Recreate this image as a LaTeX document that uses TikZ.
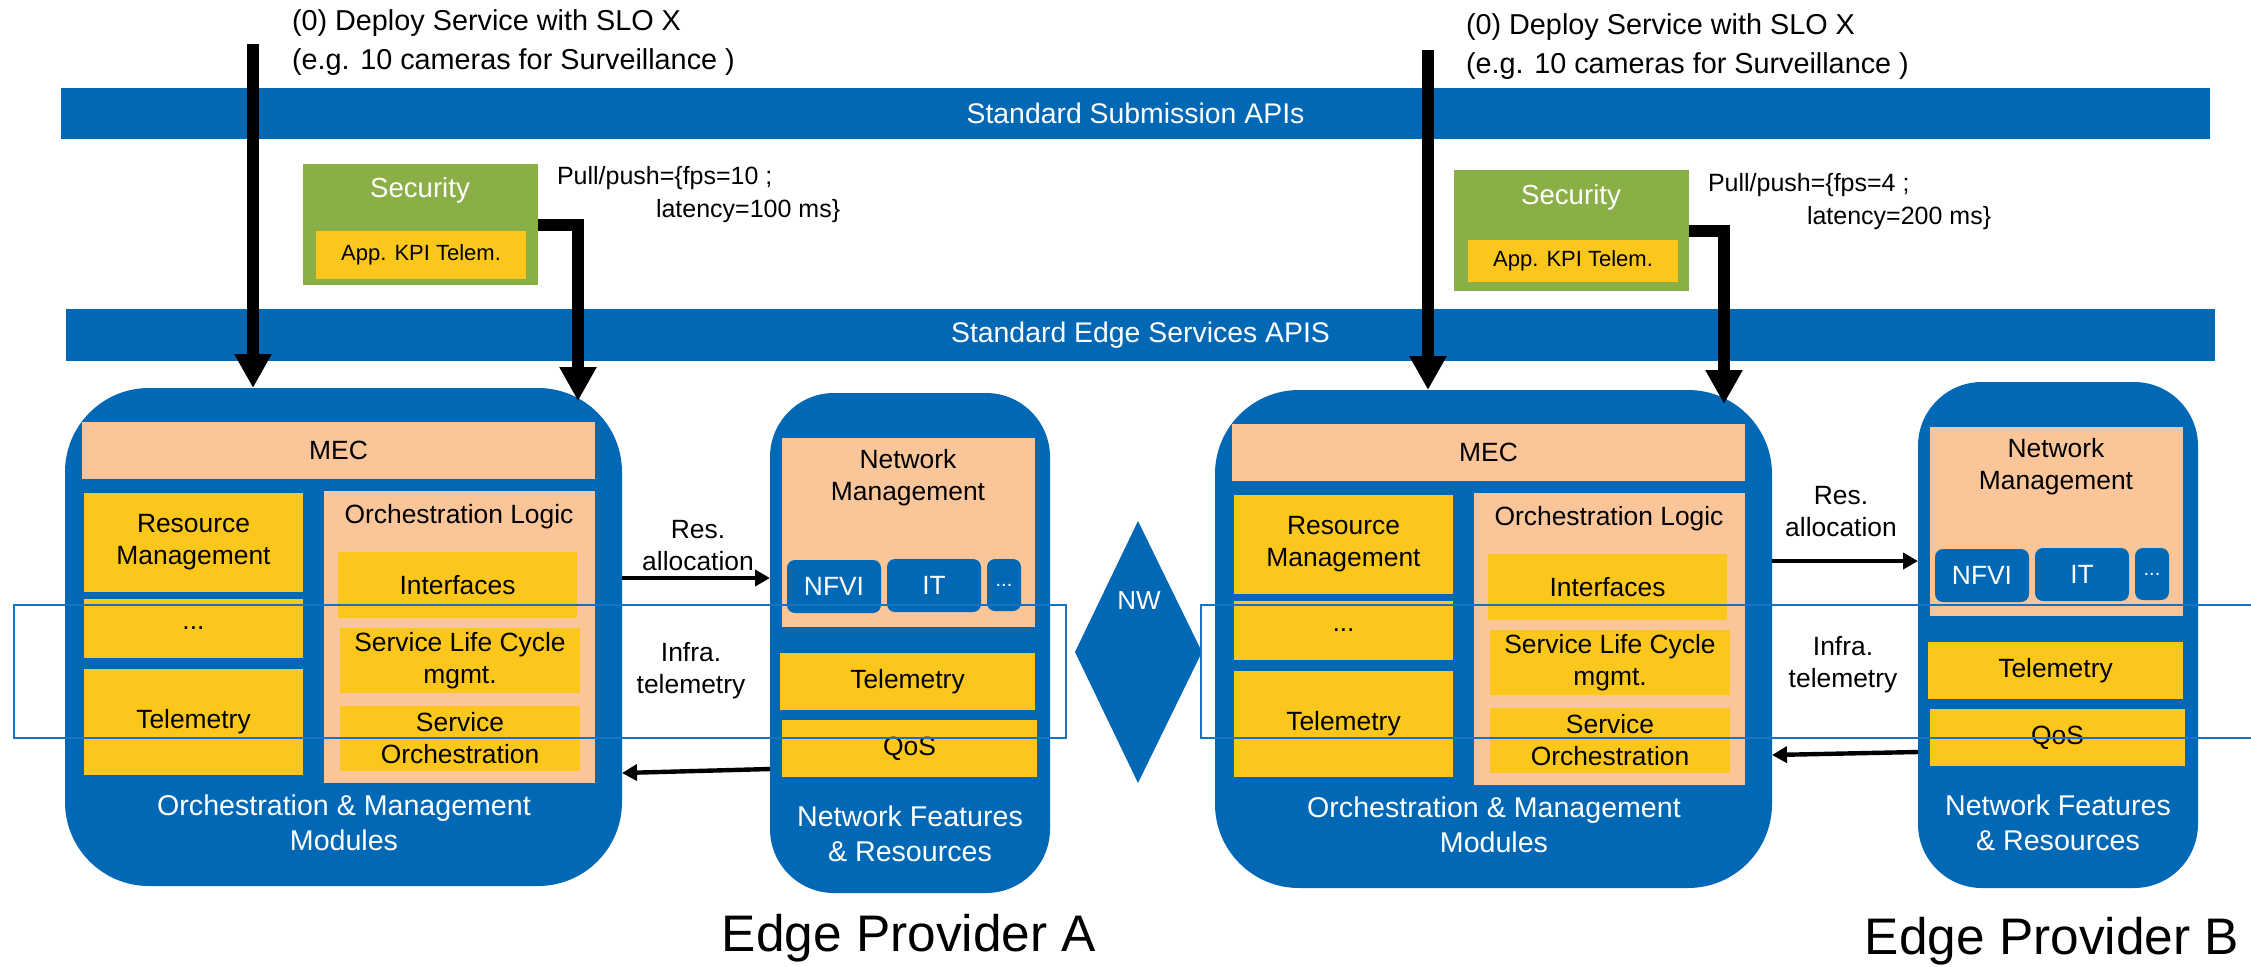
\documentclass[tikz,border=0pt]{standalone}
\usepackage{fontspec}
\setmainfont{Liberation Sans}
\usetikzlibrary{arrows.meta}

\definecolor{ibmblue}{RGB}{0,104,181}
\definecolor{framblue}{RGB}{24,114,196}
\definecolor{peach}{RGB}{250,197,153}
\definecolor{amber}{RGB}{252,199,28}
\definecolor{leaf}{RGB}{139,175,71}

% box given by its corners: name, style, x1, y1, x2, y2, text
\newcommand\blk[7]{%
  \node[#2, minimum width={(#5-#3)*0.5pt}, minimum height={(#6-#4)*0.5pt}]
    (#1) at ({(#3+#5)/2},{(#4+#6)/2}) {#7};}

\tikzset{
  every node/.style={inner sep=0pt, outer sep=0pt, align=center},
  module/.style={fill=ibmblue},
  bar/.style={fill=ibmblue, text=white, font=\fontsize{14.2}{17}\selectfont},
  peachbox/.style={fill=peach, font=\fontsize{13.2}{16}\selectfont},
  amberbox/.style={fill=amber, font=\fontsize{13.2}{16}\selectfont},
  chip/.style={fill=ibmblue, rounded corners=4pt, text=white, font=\fontsize{13.2}{16}\selectfont},
  boxtext/.style={font=\fontsize{13.2}{16}\selectfont},
  modlabel/.style={text=white, font=\fontsize{14.3}{17.5}\selectfont},
  secbox/.style={fill=leaf},
  frame/.style={draw=framblue, line width=1.3pt},
  bigarrow/.style={line width=6pt, -{Triangle[width=17.5pt,length=17pt]}},
  smallarrow/.style={line width=2.2pt, -{Triangle[width=8pt,length=7.5pt]}},
  note/.style={font=\fontsize{12.5}{15}\selectfont},
  deploy/.style={font=\fontsize{14.4}{19.5}\selectfont, align=left},
  provider/.style={font=\fontsize{25.7}{30}\selectfont},
}

% orchestration & management module, shifted by (#2,#3)
\newcommand\orchmod[3]{%
\begin{scope}[shift={(#2,#3)}]
  \blk{orch#1}{module, rounded corners=42pt}{65}{388}{622}{886}{}
  \blk{mec#1}{peachbox}{82}{422}{595}{479}{MEC}
  \blk{rm#1}{amberbox}{84}{493}{303}{592}{Resource\\Management}
  \blk{dots#1}{amberbox}{84}{599}{303}{658}{...}
  \blk{otel#1}{amberbox}{84}{669}{303}{775}{Telemetry}
  \blk{ol#1}{peachbox}{324}{491}{595}{783}{}
  \node[boxtext] (olt#1) at (459,517) {Orchestration Logic};
  \blk{if#1}{amberbox}{338}{552}{577}{618}{Interfaces}
  \blk{slc#1}{amberbox}{340}{628}{580}{693}{Service Life Cycle\\mgmt.}
  \blk{so#1}{amberbox}{340}{706}{580}{771}{Service\\Orchestration}
  \node[modlabel] (oml#1) at (344,823) {Orchestration \& Management\\Modules};
\end{scope}}

% network features & resources module, shifted by (#2,#3); #4 = bottom edge
\newcommand\netmod[4]{%
\begin{scope}[shift={(#2,#3)}]
  \blk{net#1}{module, rounded corners=32pt}{770}{393}{1050}{#4}{}
  \blk{nm#1}{peachbox}{782}{438}{1035}{627}{}
  \node[boxtext] (nmt#1) at (908,478) {Network\\Management};
  \blk{nfvi#1}{chip}{787}{560}{881}{613}{NFVI}
  \blk{it#1}{chip}{887}{559}{981}{612}{IT}
  \blk{more#1}{chip, font=\fontsize{10}{12}\selectfont}{987}{559}{1021}{611}{...}
  \blk{ntel#1}{amberbox}{780}{653}{1035}{710}{Telemetry}
  \blk{qos#1}{amberbox}{782}{720}{1037}{777}{QoS}
  \node[modlabel] (nfl#1) at (910,834) {Network Features\\\& Resources};
\end{scope}}

\begin{document}
\begin{tikzpicture}[x=0.5pt, y=-0.5pt]
\useasboundingbox (0,0) rectangle (2251,966);
\clip (0,0) rectangle (2251,966);

% API bars
\blk{subm}{bar}{61}{88}{2210}{139}{Standard Submission APIs}
\blk{edgeapi}{bar}{66}{309}{2215}{361}{Standard Edge Services APIS}

% security blocks
\blk{secA}{secbox}{303}{164}{538}{285}{}
\node[text=white, font=\fontsize{13.8}{16}\selectfont] (secAt) at (420,190) {Security};
\blk{kpiA}{amberbox, font=\fontsize{11}{13}\selectfont}{316}{231}{526}{279}{App. KPI Telem.}
\blk{secB}{secbox}{1454}{170}{1689}{291}{}
\node[text=white, font=\fontsize{13.8}{16}\selectfont] (secBt) at (1571,197) {Security};
\blk{kpiB}{amberbox, font=\fontsize{11}{13}\selectfont}{1468}{240}{1678}{282}{App. KPI Telem.}

% SLO parameters
\node[note, anchor=west] (ppA1) at (557,178) {Pull/push=\{fps=10 ;};
\node[note, anchor=west] (ppA2) at (656,211) {latency=100 ms\}};
\node[note, anchor=west] (ppB1) at (1708,185) {Pull/push=\{fps=4 ;};
\node[note, anchor=west] (ppB2) at (1807,218) {latency=200 ms\}};

% provider modules
\orchmod{A}{0}{0}
\netmod{A}{0}{0}{893}
\orchmod{B}{1150}{2}
\netmod{B}{1148}{-11}{899}

% network between providers
\fill[ibmblue] (1138,521) -- (1202,652) -- (1138,783) -- (1075,652) -- cycle;
\node[text=white, font=\fontsize{13}{16}\selectfont] (nw) at (1139,601) {NW};

% exchange between modules
\draw[smallarrow] (orchA.east |- 0,578) -- (netA.west |- 0,578);
\draw[smallarrow] (netA.west |- 0,769) -- (orchA.east |- 0,773);
\node[boxtext] (resA) at (698,546) {Res.\\allocation};
\node[boxtext] (infA) at (691,671) {Infra.\\telemetry};
\draw[smallarrow] (orchB.east |- 0,561) -- (netB.west |- 0,561);
\draw[smallarrow] (netB.west |- 0,752) -- (orchB.east |- 0,755);
\node[boxtext] (resB) at (1841,512) {Res.\\allocation};
\node[boxtext] (infB) at (1843,665) {Infra.\\telemetry};

% service deployment requests
\node[deploy, anchor=north west] (depA) at (292,10) {(0) Deploy Service with SLO X\\(e.g. 10 cameras for Surveillance )};
\node[deploy, anchor=north west] (depB) at (1466,14) {(0) Deploy Service with SLO X\\(e.g. 10 cameras for Surveillance )};
\coordinate (srcA) at (253,44);
\coordinate (srcB) at (1428,50);
\draw[bigarrow] (srcA) -- (srcA |- orchA.north);
\draw[bigarrow] (srcB) -- (srcB |- orchB.north);
\coordinate (dropA) at (578,401);
\coordinate (dropB) at (1724,404);
\draw[bigarrow] (secA.east) -| (dropA);
\draw[bigarrow] (secB.east) -| (dropB);

% observed telemetry band
\blk{frameA}{frame}{14}{605}{1066}{738}{}
\blk{frameB}{frame}{1201}{605}{2270}{738}{}

% provider names
\node[provider] (provA) at (909,938) {Edge Provider A};
\node[provider] (provB) at (2052,941) {Edge Provider  B};
\end{tikzpicture}
\end{document}
